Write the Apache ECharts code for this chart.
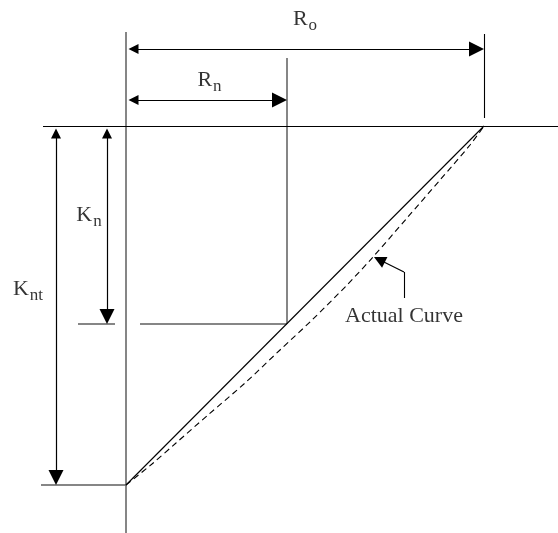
<!DOCTYPE html>
<html>
<head>
<meta charset="utf-8">
<style>
  html, body { margin: 0; padding: 0; background: #fff; }
  #chart { width: 558px; height: 533px; }
</style>
<script src="https://cdn.jsdelivr.net/npm/echarts@6/dist/echarts.min.js"></script>
</head>
<body>
<div id="chart"></div>
<script>
// dimensions read off the drawing, measured from the corner where the
// top line meets the vertical line (r to the right, k downwards)
const R_o = 358;
const R_n = 161;
const K_nt = 359;
const K_n = 198;

// actual curve (dashed), read point by point
const curveR = [0, 26, 50, 82, 119, 154, 186, 221, 247, 281, 314, 344, 358];
const curveK = [359, 338, 317, 289, 257, 224, 194, 159, 131, 92, 54, 19, 0];

// label texts: main letter + subscript
const labelMain = ["R", "R", "K", "K"];
const labelSub = ["o", "n", "n", "nt"];
const curveLabel = "Actual Curve";

// where things sit around the drawing (not data)
const dimRo = -77, dimRn = -26, dimKnt = -70, dimKn = -19;
const leader = [[278, 172], [278, 146], [248, 131]];

const black = "#000";
const gray = "#5e5e5e";
const serif = "Liberation Serif";

// ECharts centres the end symbols on the line ends, so pull the ends in
// by half an arrowhead to make the tips land on the given points
function inset(a, b, da, db) {
  let dx = b[0] - a[0], dy = b[1] - a[1];
  let len = Math.sqrt(dx * dx + dy * dy);
  dx /= len; dy /= len;
  return [[a[0] + dx * da, a[1] + dy * da], [b[0] - dx * db, b[1] - dy * db]];
}

const grayLines = [
  { coords: [[0, -94], [0, 407]] },
  { coords: [[R_n, -68], [R_n, K_n]] },
  { coords: [[14, K_n], [R_n, K_n]] },
  { coords: [[-48, K_n], [-11, K_n]] },
  { coords: [[-85, K_nt], [0, K_nt]] }
];
const blackLines = [
  { coords: [[-83, 0], [432, 0]] },
  { coords: [[R_o, -92], [R_o, -8]] },
  { coords: [[0, K_nt], [R_o, 0]] },
  { coords: [leader[0], leader[1]] }
];
const dimLines = [
  { coords: inset([0, dimRo], [R_o, dimRo], 7.5, 7.5) },
  { coords: inset([0, dimRn], [R_n, dimRn], 7.5, 7.5) },
  { coords: inset([dimKn, 0], [dimKn, K_n], 7.5, 7.5) },
  { coords: inset([dimKnt, 0], [dimKnt, K_nt], 7.5, 7.5) }
];

const labelPos = [
  [R_o / 2, -105],
  [R_n / 2 + 3, -44],
  [-37, 91],
  [-98, 165]
];

let myChart = echarts.init(document.getElementById("chart"), null, { renderer: "canvas" });
let option = {
  animation: false,
  backgroundColor: "#fff",
  grid: { left: 0, right: 0, top: 0, bottom: 0 },
  xAxis: { type: "value", min: -126, max: 432, show: false, splitLine: { show: false } },
  yAxis: { type: "value", min: -126, max: 407, inverse: true, show: false, splitLine: { show: false } },
  series: [
    {
      type: "lines",
      coordinateSystem: "cartesian2d",
      lineStyle: { color: gray, width: 1.5, opacity: 1 },
      data: grayLines
    },
    {
      type: "lines",
      coordinateSystem: "cartesian2d",
      lineStyle: { color: black, width: 1.1, opacity: 1 },
      data: blackLines
    },
    {
      type: "lines",
      coordinateSystem: "cartesian2d",
      symbol: ["triangle", "triangle"],
      symbolSize: [10, 15],
      lineStyle: { color: black, width: 1.2, opacity: 1 },
      data: dimLines
    },
    {
      type: "lines",
      coordinateSystem: "cartesian2d",
      symbol: ["none", "triangle"],
      symbolSize: [8, 12],
      lineStyle: { color: black, width: 1.2, opacity: 1 },
      data: [{ coords: inset(leader[1], leader[2], 0, 6) }]
    },
    {
      type: "line",
      smooth: 0.3,
      showSymbol: false,
      lineStyle: { color: black, width: 1.1, type: [6, 4] },
      data: curveR.map((r, i) => [r, curveK[i]])
    },
    {
      type: "scatter",
      symbolSize: 0,
      itemStyle: { color: "transparent" },
      label: {
        show: true,
        position: "inside",
        color: black,
        formatter: (p) => "{m|" + labelMain[p.dataIndex] + "}{s|" + labelSub[p.dataIndex] + "}",
        rich: {
          m: { fontFamily: serif, fontSize: 22, color: black, verticalAlign: "top" },
          s: { fontFamily: serif, fontSize: 17, color: black, verticalAlign: "top", padding: [9, 0, 0, 1] }
        }
      },
      data: labelPos
    },
    {
      type: "scatter",
      symbolSize: 0,
      itemStyle: { color: "transparent" },
      label: {
        show: true,
        position: "inside",
        fontFamily: serif,
        fontSize: 22,
        color: black,
        formatter: curveLabel
      },
      data: [[leader[0][0], 190]]
    }
  ]
};
myChart.setOption(option);
</script>
</body>
</html>
